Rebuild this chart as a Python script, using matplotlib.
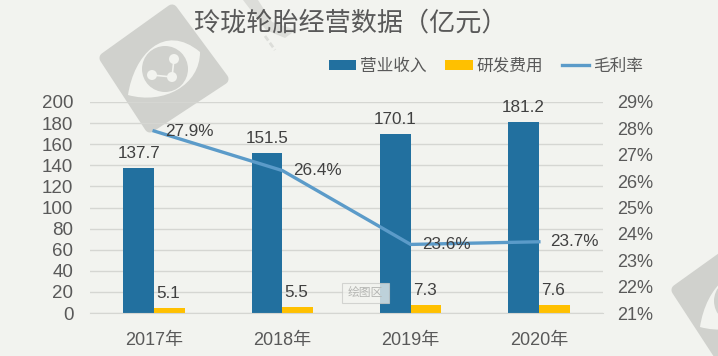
import matplotlib
matplotlib.use("Agg")
import matplotlib.pyplot as plt
from matplotlib.patches import Circle, PathPatch, Polygon, Rectangle
from matplotlib.path import Path
import numpy as np

plt.rcParams['font.family'] = ['Liberation Sans', 'Noto Sans CJK SC', 'DejaVu Sans']

years = ['2017年', '2018年', '2019年', '2020年']
revenue = [137.7, 151.5, 170.1, 181.2]
rnd = [5.1, 5.5, 7.3, 7.6]
margin = [27.9, 26.4, 23.6, 23.7]

BG = '#f2f3ef'
MARK = '#d0d1cd'
TEXT = '#595959'
W, H = 718, 356


def watermark(ax, cx, cy):
    # grey rounded diamond with the eye logo, in pixel coordinates
    corners = [(-59, -32), (8, -80), (59, -11), (-14, 37)]
    pts = [(cx + a, cy + b) for a, b in corners]
    ax.add_patch(Polygon(pts, closed=True, fc=MARK, ec=MARK, lw=8, joinstyle='round'))
    verts = [(cx - 36, cy + 5), (cx - 30, cy - 35), (cx, cy - 68), (cx + 36, cy - 38),
             (cx + 36, cy - 5), (cx, cy + 15), (cx - 36, cy + 5)]
    codes = [Path.MOVETO, Path.CURVE4, Path.CURVE4, Path.CURVE4,
             Path.CURVE4, Path.CURVE4, Path.CURVE4]
    ax.add_patch(PathPatch(Path(verts, codes), fc=BG, ec='none'))
    ax.add_patch(Circle((cx + 1, cy - 21), 23, fc=MARK, ec='none'))
    nodes = [(cx + 10, cy - 31), (cx + 8, cy - 13), (cx - 12, cy - 15)]
    ax.plot([n[0] for n in nodes], [n[1] for n in nodes], color=BG, lw=1.2)
    for n in nodes:
        ax.add_patch(Circle(n, 5, fc=BG, ec='none'))


fig = plt.figure(figsize=(W / 100, H / 100), dpi=100, facecolor=BG)

# background layer for the watermarks
bg = fig.add_axes([0, 0, 1, 1], zorder=0)
bg.set_xlim(0, W)
bg.set_ylim(H, 0)
bg.axis('off')
watermark(bg, 164, 90)
watermark(bg, 736, 322)
bg.add_patch(Polygon([(243, 0), (258, 0), (272, 22), (296, 30), (285, 38), (266, 30)], fc='#dcddd9', ec='none'))
bg.plot([265, 275], [36, 50], color='#dcddd9', lw=2, ls=(0, (2, 1)))

ax = fig.add_axes([90 / W, 1 - 313 / H, 513 / W, 211 / H], zorder=1)
ax.patch.set_alpha(0)
x = np.arange(len(years))
bar_w = 0.24
ax.bar(x - bar_w / 2, revenue, bar_w, color='#22709f', label='营业收入', zorder=2)
ax.bar(x + bar_w / 2, rnd, bar_w, color='#ffc000', label='研发费用', zorder=2)
ax.set_xlim(-0.5, 3.5)
ax.set_ylim(0, 200)
ax.set_yticks(np.arange(0, 201, 20))
ax.set_xticks(x)
ax.set_xticklabels(years)
ax.grid(axis='y', color='#d5d6d2', lw=1, zorder=1)
ax.set_axisbelow(True)
ax.tick_params(axis='both', length=0, labelcolor=TEXT)
ax.tick_params(axis='y', labelsize=13.5, pad=12)
ax.tick_params(axis='x', labelsize=13, pad=14)
for s in ax.spines.values():
    s.set_visible(False)
ax.spines['bottom'].set_visible(True)
ax.spines['bottom'].set_color('#d5d6d2')

for i, v in enumerate(revenue):
    ax.annotate(f'{v}', (x[i] - bar_w / 2, v), xytext=(0, 5), textcoords='offset points',
                ha='center', va='bottom', fontsize=12.3, color='#404040', zorder=5)
for i, v in enumerate(rnd):
    ax.annotate(f'{v}', (x[i] + bar_w / 2, v), xytext=(-1, 5), textcoords='offset points',
                ha='center', va='bottom', fontsize=12.3, color='#404040', zorder=5)

ax2 = ax.twinx()
ax2.patch.set_alpha(0)
ax2.plot(x, margin, color='#5b9bc9', lw=2.4, label='毛利率', zorder=3)
ax2.set_ylim(21, 29)
ax2.set_yticks(np.arange(21, 30))
ax2.set_yticklabels([f'{t}%' for t in range(21, 30)])
ax2.tick_params(axis='y', length=0, labelsize=13, labelcolor=TEXT, pad=10)
for s in ax2.spines.values():
    s.set_visible(False)
for i, v in enumerate(margin):
    ax2.annotate(f'{v}%', (x[i], v), xytext=(8, 0), textcoords='offset points',
                 ha='left', va='center', fontsize=12.3, color='#404040', zorder=5)

handles = ax.get_legend_handles_labels()[0] + ax2.get_legend_handles_labels()[0]
labels = ax.get_legend_handles_labels()[1] + ax2.get_legend_handles_labels()[1]
fig.legend(handles, labels, loc='center', bbox_to_anchor=(486 / W, 1 - 66 / H), ncol=3,
           frameon=False, fontsize=12, labelcolor=TEXT, handlelength=1.65, handleheight=0.55,
           handletextpad=0.25, columnspacing=1.1)

fig.text(351 / W, 1 - 23 / H, '玲珑轮胎经营数据（亿元）', ha='center', va='center',
         fontsize=18.8, color=TEXT)

# tooltip left over in the screenshot
tip = fig.add_axes([0, 0, 1, 1], zorder=3)
tip.set_xlim(0, W)
tip.set_ylim(H, 0)
tip.axis('off')
tip.add_patch(Rectangle((342, 283), 47, 20, fc='#f2f3ef', ec='#c8c9c6', lw=0.8, alpha=0.75))
tip.text(365.5, 293, '绘图区', ha='center', va='center', fontsize=8.5, color='#b5b6b3')

fig.savefig('out.png', dpi=100, facecolor=BG)
